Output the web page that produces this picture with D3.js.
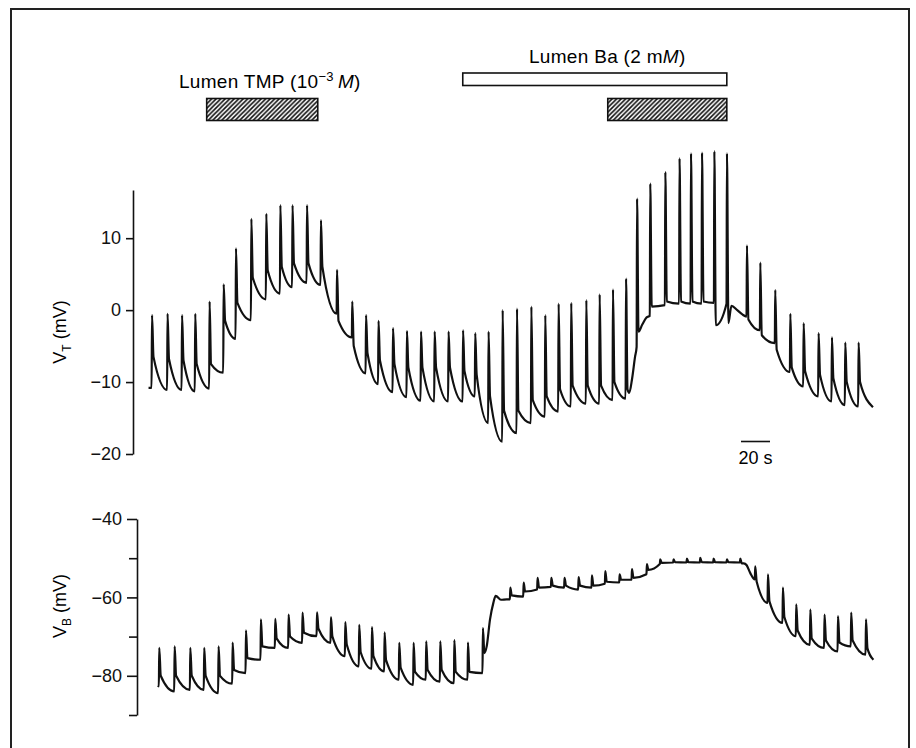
<!DOCTYPE html>
<html>
<head>
<meta charset="utf-8">
<script src="https://cdn.jsdelivr.net/npm/d3@7"></script>
<style>
  body { margin: 0; background: #fff; }
  svg { display: block; font-family: "Liberation Sans", Arial, Helvetica, sans-serif; }
</style>
</head>
<body>
<script>
var width = 916;
var height = 748;

// time is in seconds from the start of the record
var tmpPeriods = [[39.1, 115.7], [315.7, 397.8]];
var baPeriods = [[215.7, 397.8]];

var vtTicks = [-20, -10, 0, 10];
var vbTicks = [-90, -80, -70, -60, -50, -40];
var vbLabelled = [-80, -60, -40];
var scaleBar = [407.6, 20]; // start, length (s)

// V_T pulses: [time, value before, peak, value just after]
var topSpikes = [
  [1.2, -10.8, -0.7, -6.5], [11.9, -11.1, -0.5, -6.8], [21.9, -11.1, -0.7, -7.0],
  [31.0, -11.3, -0.5, -7.5], [40.9, -10.9, 1.2, -7.5], [50.6, -8.7, 3.6, -1.5],
  [59.1, -4.0, 8.6, 1.0], [69.7, -1.4, 12.7, 4.5], [80.0, 1.5, 13.4, 5.5],
  [89.7, 2.3, 14.6, 6.0], [98.1, 3.2, 14.6, 6.5], [108.1, 3.8, 14.6, 6.5],
  [117.7, 3.5, 12.5, 6.0], [128.8, -0.5, 5.6, -1.5], [139.3, -3.8, 1.2, -5.0],
  [148.8, -8.8, -0.7, -6.0], [157.4, -10.3, -1.5, -7.0], [167.4, -11.4, -2.5, -7.5],
  [177.0, -12.1, -2.9, -8.0], [186.7, -12.6, -3.0, -8.0], [196.1, -12.7, -3.0, -8.0],
  [205.7, -12.7, -3.0, -8.0], [215.7, -12.7, -2.8, -8.5], [224.1, -12.0, -3.2, -9.0],
  [233.3, -15.7, -3.0, -12.0], [243.0, -18.3, 0.0, -14.0], [252.9, -17.1, 0.2, -14.0],
  [262.8, -15.7, 0.5, -12.5], [272.4, -14.8, -0.7, -12.0], [281.6, -14.1, 0.9, -11.0],
  [290.3, -13.4, 1.0, -10.5], [300.7, -13.0, 1.4, -10.5], [309.9, -13.0, 2.2, -10.5],
  [319.1, -12.5, 2.9, -10.0], [328.1, -12.3, 4.4, -11.0], [335.7, -5.1, 15.5, -3.0],
  [344.8, -0.8, 17.6, 0.5], [355.2, 0.7, 19.2, 1.2], [365.0, 0.9, 21.1, 1.2],
  [372.9, 0.9, 21.8, 1.2], [380.5, 0.9, 21.9, 1.2], [389.0, 1.0, 22.1, -2.1],
  [397.7, 0.9, 21.8, -1.8], [411.5, -0.9, 9.0, -1.3], [420.7, -2.8, 6.6, -3.5],
  [431.0, -4.6, 2.8, -5.5], [441.4, -8.6, -0.5, -8.0], [450.6, -10.6, -1.8, -8.5],
  [460.9, -12.0, -3.2, -9.0], [470.1, -12.7, -3.8, -9.5], [479.3, -13.2, -4.5, -10.0],
  [488.5, -13.4, -4.5, -10.0]
];
// extra points of the V_T baseline: [time, value]
var topBaseline = [
  [-1.0, -10.8], [330.5, -11.5], [332.5, -9.5], [334.5, -6.5],
  [339.5, -2.0], [342.5, -1.0], [401.0, 0.6], [405.0, 0.0], [408.5, -0.6],
  [498.6, -13.5]
];

// V_B pulses: [time, value before, peak, value just after]
var botSpikes = [
  [6.2, -82.7, -72.9, -80.0], [16.8, -84.0, -72.5, -80.0], [27.6, -83.6, -72.9, -80.0],
  [37.2, -83.6, -72.9, -80.0], [47.1, -84.4, -72.5, -80.0], [56.8, -82.0, -71.5, -78.5],
  [66.0, -79.3, -68.4, -75.5], [76.3, -75.9, -65.6, -72.5], [86.2, -72.9, -65.5, -70.5],
  [95.4, -72.9, -64.4, -70.0], [105.0, -71.6, -63.9, -69.0], [115.0, -69.9, -63.8, -68.0],
  [124.6, -71.6, -65.0, -70.0], [134.5, -75.0, -66.3, -72.0], [144.1, -77.6, -67.0, -74.0],
  [152.9, -78.2, -67.6, -75.0], [161.6, -78.9, -68.9, -76.0], [171.7, -81.0, -71.6, -78.0],
  [181.6, -82.3, -71.6, -79.0], [190.3, -81.0, -71.2, -78.5], [200.0, -81.5, -71.2, -78.5],
  [209.7, -81.9, -70.9, -79.0], [219.1, -81.0, -71.5, -79.0], [229.4, -79.3, -67.8, -74.2],
  [248.3, -60.5, -57.5, -59.5], [257.5, -59.8, -56.2, -58.5], [267.1, -58.0, -55.0, -57.5],
  [276.6, -57.3, -55.0, -57.0], [285.7, -57.5, -55.0, -57.0], [295.4, -58.0, -54.8, -57.0],
  [304.6, -57.5, -54.4, -57.0], [313.8, -56.5, -53.3, -56.0], [323.7, -56.2, -54.1, -55.5],
  [332.2, -55.5, -52.8, -55.0], [342.5, -54.1, -51.5, -53.0], [351.7, -51.5, -50.3, -51.2],
  [360.9, -51.1, -50.3, -51.0], [370.1, -51.1, -50.1, -51.0], [379.3, -51.1, -49.9, -51.0],
  [388.5, -51.1, -50.1, -51.0], [397.7, -51.1, -50.3, -51.0], [406.9, -51.1, -50.1, -51.3],
  [417.2, -55.4, -52.1, -56.0], [426.0, -61.4, -54.1, -61.0], [436.3, -66.5, -57.5, -65.0],
  [445.5, -69.9, -61.8, -68.5], [455.2, -72.1, -63.1, -70.5], [465.0, -72.9, -64.4, -71.0],
  [474.3, -73.8, -64.8, -71.5], [483.4, -72.5, -63.9, -71.0], [493.6, -74.6, -65.6, -73.0]
];
var botBaseline = [
  [5.4, -82.5], [232.2, -72.5], [234.5, -65.6], [236.8, -61.4], [238.4, -59.6],
  [242.0, -60.6], [246.0, -60.5], [409.5, -51.3], [411.5, -51.8], [414.0, -53.8],
  [498.9, -75.9]
];

var svg = d3.select('body').append('svg')
  .attr('width', width)
  .attr('height', height);

var x = d3.scaleLinear().domain([0, 500]).range([150, 875]);
var yT = d3.scaleLinear().domain([-20, 16.7]).range([454, 190]);
var yB = d3.scaleLinear().domain([-90, -40]).range([715, 519]);

// frame round the figure
svg.append('rect')
  .attr('x', 11).attr('y', 9)
  .attr('width', 898).attr('height', 800)
  .attr('fill', 'none').attr('stroke', '#222').attr('stroke-width', 2);

// hatch for the TMP bars
var pat = svg.append('defs').append('pattern')
  .attr('id', 'hatch')
  .attr('patternUnits', 'userSpaceOnUse')
  .attr('width', 4.5).attr('height', 4.5);
pat.append('rect').attr('width', 4.5).attr('height', 4.5).attr('fill', '#fff');
pat.append('path')
  .attr('d', 'M-1,1 L1,-1 M0,4.5 L4.5,0 M3.5,5.5 L5.5,3.5')
  .attr('stroke', '#111').attr('stroke-width', 1.6);

svg.selectAll('rect.tmp').data(tmpPeriods).join('rect')
  .attr('class', 'tmp')
  .attr('x', function(d){ return x(d[0]); })
  .attr('width', function(d){ return x(d[1]) - x(d[0]); })
  .attr('y', 98.5).attr('height', 22)
  .attr('fill', 'url(#hatch)').attr('stroke', '#111').attr('stroke-width', 1.6);

svg.selectAll('rect.ba').data(baPeriods).join('rect')
  .attr('class', 'ba')
  .attr('x', function(d){ return x(d[0]); })
  .attr('width', function(d){ return x(d[1]) - x(d[0]); })
  .attr('y', 73).attr('height', 12.5)
  .attr('fill', '#fff').attr('stroke', '#111').attr('stroke-width', 1.6);

// bar labels
var tmpText = svg.append('text').attr('x', 179).attr('y', 88)
  .attr('font-size', 19).attr('letter-spacing', 0.3);
tmpText.append('tspan').text('Lumen TMP (10');
tmpText.append('tspan').attr('font-size', 13).attr('dy', -7).text('\u22123');
tmpText.append('tspan').attr('dy', 7).text('\u2009');
tmpText.append('tspan').attr('font-style', 'italic').text('M');
tmpText.append('tspan').text(')');

var baText = svg.append('text').attr('x', 529).attr('y', 63)
  .attr('font-size', 19).attr('letter-spacing', 0.3);
baText.append('tspan').text('Lumen Ba (2 m');
baText.append('tspan').attr('font-style', 'italic').text('M');
baText.append('tspan').text(')');

// axes
var styleAxis = function(g){
  g.attr('font-size', 18).attr('font-family', null);
  g.selectAll('path, line').attr('stroke', '#111').attr('stroke-width', 1.6);
  g.selectAll('text').attr('fill', '#111');
};

svg.append('g')
  .attr('transform', 'translate(133,0)')
  .call(d3.axisLeft(yT).tickValues(vtTicks).tickSize(7).tickSizeOuter(0).tickPadding(5))
  .call(styleAxis);

var axB = svg.append('g')
  .attr('transform', 'translate(137,0)')
  .call(d3.axisLeft(yB).tickValues(vbTicks).tickSize(10).tickSizeOuter(0).tickPadding(5)
    .tickFormat(function(d){ return vbLabelled.indexOf(d) >= 0 ? d3.format('')(d) : ''; }))
  .call(styleAxis);
axB.selectAll('.tick')
  .filter(function(d){ return vbLabelled.indexOf(d) < 0; })
  .select('line').attr('x2', -8);

var yLabel = function(cx, cy, sub){
  var t = svg.append('text')
    .attr('transform', 'translate(' + cx + ',' + cy + ') rotate(-90)')
    .attr('text-anchor', 'middle')
    .attr('font-size', 18);
  t.append('tspan').text('V');
  t.append('tspan').attr('font-size', 12).attr('dy', 5).text(sub);
  t.append('tspan').attr('dy', -5).text(' (mV)');
};
yLabel(66, 332, 'T');
yLabel(66, 606, 'B');

// 20 s scale bar
svg.append('line')
  .attr('x1', x(scaleBar[0])).attr('x2', x(scaleBar[0] + scaleBar[1]))
  .attr('y1', 441.5).attr('y2', 441.5)
  .attr('stroke', '#111').attr('stroke-width', 1.6);
svg.append('text')
  .attr('x', (x(scaleBar[0]) + x(scaleBar[0] + scaleBar[1])) / 2)
  .attr('y', 464)
  .attr('text-anchor', 'middle')
  .attr('font-size', 18)
  .text(scaleBar[1] + ' s');

// traces
var buildTrace = function(spikes, baseline){
  var pts = baseline.slice();
  spikes.forEach(function(s){
    pts.push([s[0] - 0.1, s[1]], [s[0] + 0.2, s[2]], [s[0] + 1.2, s[3]]);
  });
  return pts.sort(function(a, b){ return a[0] - b[0]; });
};

var lineT = d3.line()
  .x(function(d){ return x(d[0]); })
  .y(function(d){ return yT(d[1]); })
  .curve(d3.curveMonotoneX);
var lineB = d3.line()
  .x(function(d){ return x(d[0]); })
  .y(function(d){ return yB(d[1]); })
  .curve(d3.curveMonotoneX);

svg.append('path')
  .attr('d', lineT(buildTrace(topSpikes, topBaseline)))
  .attr('fill', 'none').attr('stroke', '#111')
  .attr('stroke-width', 2.2).attr('stroke-linejoin', 'round');

svg.append('path')
  .attr('d', lineB(buildTrace(botSpikes, botBaseline)))
  .attr('fill', 'none').attr('stroke', '#111')
  .attr('stroke-width', 2.2).attr('stroke-linejoin', 'round');
</script>
</body>
</html>
